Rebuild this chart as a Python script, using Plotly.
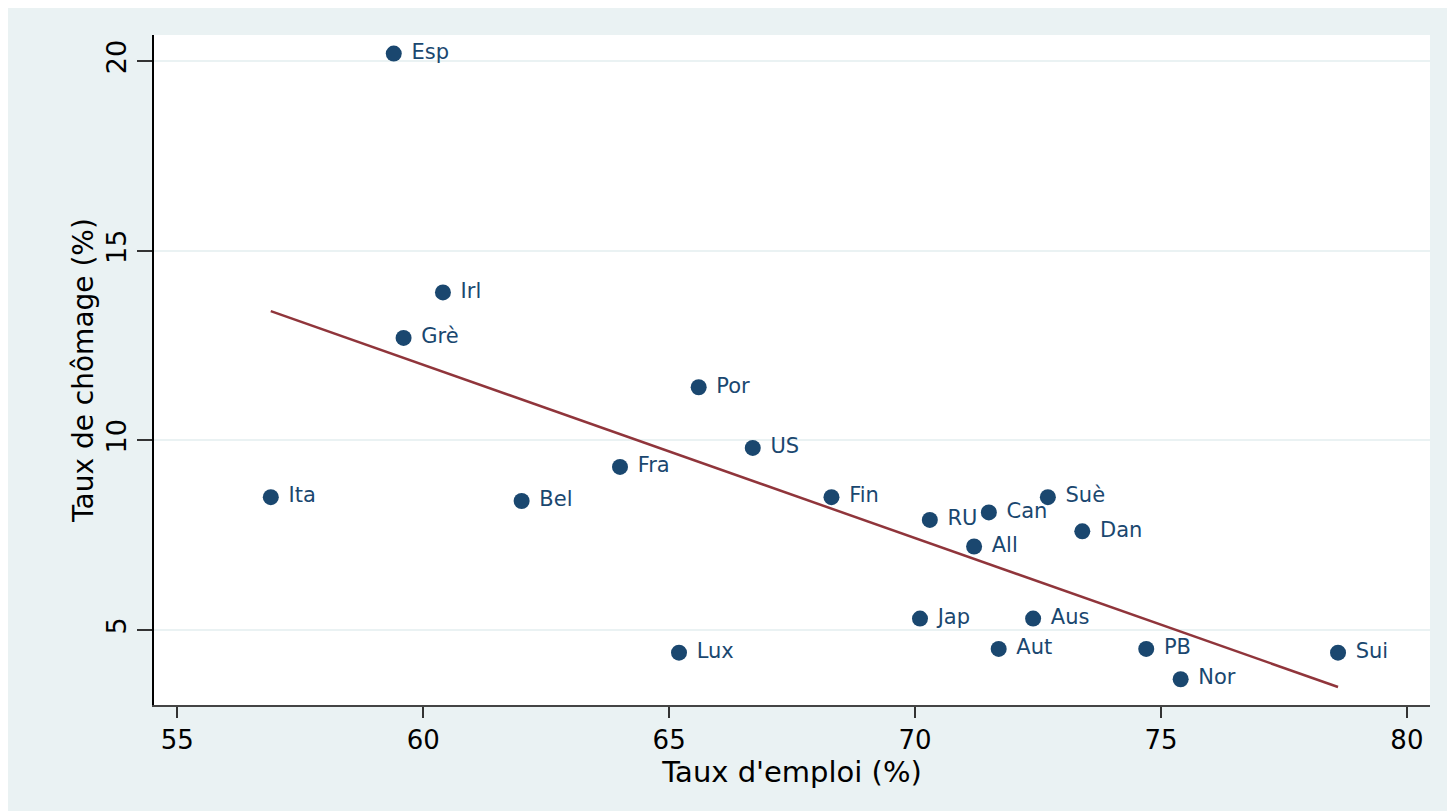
import numpy as np
import plotly.graph_objects as go

countries = ["Esp", "Irl", "Grè", "Ita", "Bel", "Fra", "Por", "US", "Lux", "Fin", "RU",
             "Can", "Suè", "Dan", "All", "Jap", "Aus", "Aut", "PB", "Nor", "Sui"]
emploi = [59.4, 60.4, 59.6, 56.9, 62.0, 64.0, 65.6, 66.7, 65.2, 68.3, 70.3,
          71.5, 72.7, 73.4, 71.2, 70.1, 72.4, 71.7, 74.7, 75.4, 78.6]
chomage = [20.2, 13.9, 12.7, 8.5, 8.4, 9.3, 11.4, 9.8, 4.4, 8.5, 7.9,
           8.1, 8.5, 7.6, 7.2, 5.3, 5.3, 4.5, 4.5, 3.7, 4.4]
x_ticks = [55, 60, 65, 70, 75, 80]
y_ticks = [5, 10, 15, 20]

xe = np.array(emploi)
yc = np.array(chomage)
slope, intercept = np.polyfit(xe, yc, 1)
fit_x = np.array([xe.min(), xe.max()])
fit_y = slope * fit_x + intercept

FONT = "DejaVu Sans"
NAVY = "#1a476f"

fig = go.Figure()
fig.add_trace(go.Scatter(
    x=emploi, y=chomage, mode="markers+text", text=countries,
    texttemplate="\u00a0%{text}",
    textposition="middle right",
    textfont=dict(family=FONT, size=21, color=NAVY),
    marker=dict(size=16, color=NAVY, line=dict(width=0)),
    showlegend=False, hoverinfo="x+y+text"))
fig.add_trace(go.Scatter(
    x=fit_x, y=fit_y, mode="lines", line=dict(color="#90353b", width=2.5),
    showlegend=False))

fig.update_layout(
    width=1455, height=811,
    paper_bgcolor="#eaf2f3", plot_bgcolor="white",
    margin=dict(l=146, r=33, t=27, b=114),
    font=dict(family=FONT, color="black"),
    xaxis=dict(range=[54.525, 80.47], tickvals=x_ticks, ticks="outside", ticklen=11,
               tickwidth=1.5, tickcolor="#333", showline=True, linecolor="#444", linewidth=2,
               showgrid=False, zeroline=False, tickfont=dict(size=26, family=FONT),
               title=dict(text="Taux d'emploi (%)", font=dict(size=29, family=FONT), standoff=0)),
    yaxis=dict(range=[3.02, 20.69], tickvals=y_ticks, ticks="outside", ticklen=15,
               tickwidth=1.5, tickcolor="#333", showline=True, linecolor="black", linewidth=1.5,
               showgrid=True, gridcolor="#eaf2f3", gridwidth=2, zeroline=False,
               tickangle=-90, tickfont=dict(size=27, family=FONT),
               title=dict(text="Taux de chômage (%)", font=dict(size=28, family=FONT), standoff=0)),
)
fig.write_html("out.html")
